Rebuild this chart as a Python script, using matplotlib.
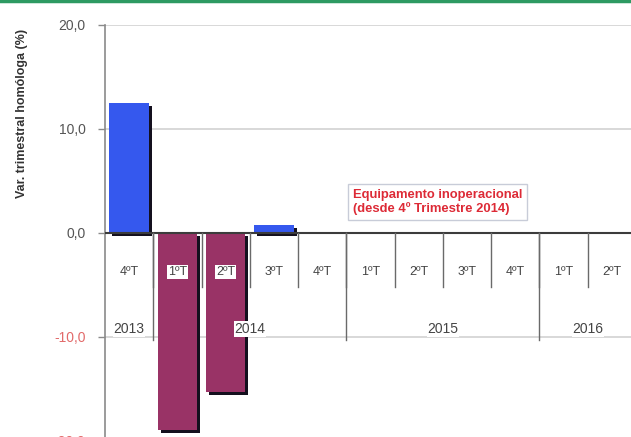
import matplotlib.pyplot as plt
from matplotlib.lines import Line2D

# -----------------------------------
# DATA
# -----------------------------------
quarters = ["4ºT", "1ºT", "2ºT", "3ºT", "4ºT", "1ºT", "2ºT", "3ºT", "4ºT", "1ºT", "2ºT"]
years = ["2013", "2014", "2015", "2016"]
year_sizes = [1, 4, 4, 2]
values = [12.5, -18.9, -15.3, 0.8, 0, 0, 0, 0, 0, 0, 0]
y_ticks = [-20, -10, 0, 10, 20]
note = "Equipamento inoperacional\n(desde 4º Trimestre 2014)"

BLUE = "#3558ee"
PLUM = "#993366"
SHADOW = "#14101e"
FONT = "Liberation Sans"

# -----------------------------------
# FIGURE
# -----------------------------------
W, H = 631, 437
fig = plt.figure(figsize=(W / 100, H / 100), dpi=100)
fig.patch.set_facecolor("white")

# axes extends past the right and bottom edges (cropped chart)
left, right = 105, 636
top, bottom = 25, 441
ax = fig.add_axes([left / W, (H - bottom) / H, (right - left) / W, (bottom - top) / H])
ax.set_xlim(-0.5, len(quarters) - 0.5)
ax.set_ylim(-20, 20)

for s in ["top", "right", "bottom"]:
    ax.spines[s].set_visible(False)
ax.spines["left"].set_color("#8a8a8a")
ax.spines["left"].set_linewidth(1.2)


def data_y(py):
    return 20 - (py - top) * 40 / (bottom - top)


def data_x(px):
    return -0.5 + (px - left) * len(quarters) / (right - left)


# gridlines
for t in y_ticks:
    if t != 0:
        ax.axhline(t, color="#d2d2d2", lw=1.2, zorder=0)

# bars with a small dark shadow (down-right)
px_x = len(quarters) / (right - left)
px_y = 40 / (bottom - top)
width = 0.82
for i, v in enumerate(values):
    if v == 0:
        continue
    color = BLUE if v > 0 else PLUM
    ax.bar(i + 3 * px_x, v, width=width, bottom=-3 * px_y, color=SHADOW, zorder=2)
    ax.bar(i, v, width=width, color=color, zorder=3)

# zero / category axis line
ax.axhline(0, color="#3c3c3c", lw=1.5, zorder=4)

# quarter separators and year separators
for i in range(1, len(quarters)):
    ax.plot([i - 0.5, i - 0.5], [0, data_y(287)], color="#6a6a6a", lw=1.0, zorder=4)
pos = 0
for n in year_sizes[:-1]:
    pos += n
    ax.plot([pos - 0.5, pos - 0.5], [0, data_y(340)], color="#6a6a6a", lw=1.0, zorder=4)

# quarter labels
for i, q in enumerate(quarters):
    ax.text(i, data_y(272), q, ha="center", va="center", fontsize=9, color="#444444",
            family=FONT, bbox=dict(facecolor="white", edgecolor="none", pad=0.5), zorder=5)

# year labels
pos = 0
for y, n in zip(years, year_sizes):
    ax.text(pos + (n - 1) / 2, data_y(329), y, ha="center", va="center", fontsize=10,
            color="#444444", family=FONT,
            bbox=dict(facecolor="white", edgecolor="none", pad=0.5), zorder=5)
    pos += n

# y ticks
ax.set_yticks(y_ticks)
ax.set_yticklabels([f"{t:.1f}".replace(".", ",") for t in y_ticks], fontsize=10, family=FONT)
for t, lab in zip(y_ticks, ax.get_yticklabels()):
    lab.set_color("#e26a6a" if t < 0 else "#555555")
ax.tick_params(axis="y", length=5, width=1, color="#8a8a8a", pad=9)
ax.set_xticks([])

# note box
ax.text(data_x(353), data_y(202), note, ha="left", va="center", fontsize=9.4,
        color="#dd2a36", fontweight="bold", family=FONT, linespacing=1.15,
        bbox=dict(facecolor="white", edgecolor="#c8ccd8", lw=1.0, pad=3.5), zorder=5)

# y axis title
fig.text(22 / W, 1 - 113 / H, "Var. trimestral homóloga (%)", rotation=90, ha="center",
         va="center", fontsize=9, fontweight="bold", color="#333333", family=FONT)

# green top rule
fig.add_artist(Line2D([0, 1], [1 - 1 / H, 1 - 1 / H], color="#2e9a62", lw=2.5,
                      transform=fig.transFigure))

fig.savefig("out.png", dpi=100)
